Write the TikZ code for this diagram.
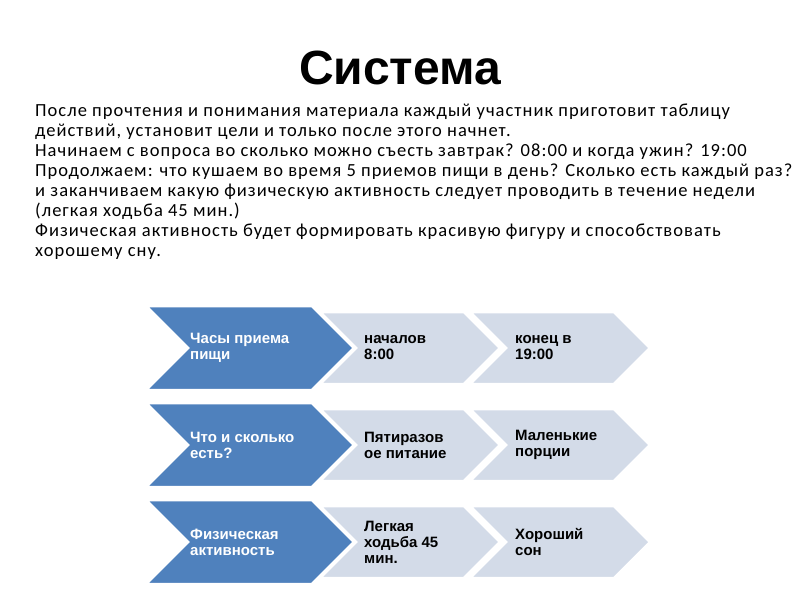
\documentclass[tikz,border=0pt]{standalone}
\usepackage{fontspec}
\setmainfont{Carlito}[LetterSpace=5.5]
\newfontfamily\arialf{Liberation Sans}
\begin{document}
\begin{tikzpicture}[x=1pt,y=-1pt,
 lbl/.style={anchor=west,align=left,font=\arialf\bfseries\fontsize{15}{16}\selectfont,inner sep=0pt},
 para/.style={anchor=north west,align=left,font=\fontsize{18.5}{20}\selectfont,inner sep=0pt}]
\useasboundingbox (0,0) rectangle (800,600);
\definecolor{blu}{RGB}{79,129,189}
\definecolor{lgt}{RGB}{211,219,232}
\newcommand{\chev}[6]{\filldraw[#6,draw=white,line width=2.5pt,line join=miter] (#1,#3) -- (#2-#5,#3) -- (#2,{(#3+#4)/2}) -- (#2-#5,#4) -- (#1,#4) -- (#1+#5,{(#3+#4)/2}) -- cycle;}
\node (title) at (400,68) {\arialf\bfseries\fontsize{48}{52}\selectfont Система};
\node[para] (txt) at (35,104) {После прочтения и понимания материала каждый участник приготовит таблицу\\действий, установит цели и только после этого начнет.\\Начинаем с вопроса во сколько можно съесть завтрак? 08:00 и когда ужин? 19:00\\Продолжаем: что кушаем во время 5 приемов пищи в день? Сколько есть каждый раз?\\и заканчиваем какую физическую активность следует проводить в течение недели\\(легкая ходьба 45 мин.)\\Физическая активность будет формировать красивую фигуру и способствовать\\хорошему сну.};
\foreach \t/\a/\c [count=\i from 0] in {{Часы приема\\пищи}/{началов\\8:00}/{конец в\\19:00},{Что и сколько\\есть?}/{Пятиразов\\ое питание}/{Маленькие\\порции},{Физическая\\активность}/{Легкая\\ходьба 45\\мин.}/{Хороший\\сон}}{
 \pgfmathsetmacro{\yo}{\i*97}
 \chev{470}{650}{312+\yo}{384+\yo}{36}{lgt}
 \chev{320}{500}{312+\yo}{384+\yo}{36}{lgt}
 \chev{146}{354}{306+\yo}{390+\yo}{42}{blu}
 \node[lbl,text=white] (b\i) at (190,348+\yo) {\t};
 \node[lbl] (m\i) at (364,348+\yo) {\a};
 \node[lbl] (r\i) at (515,348+\yo) {\c};
}
\end{tikzpicture}
\end{document}
